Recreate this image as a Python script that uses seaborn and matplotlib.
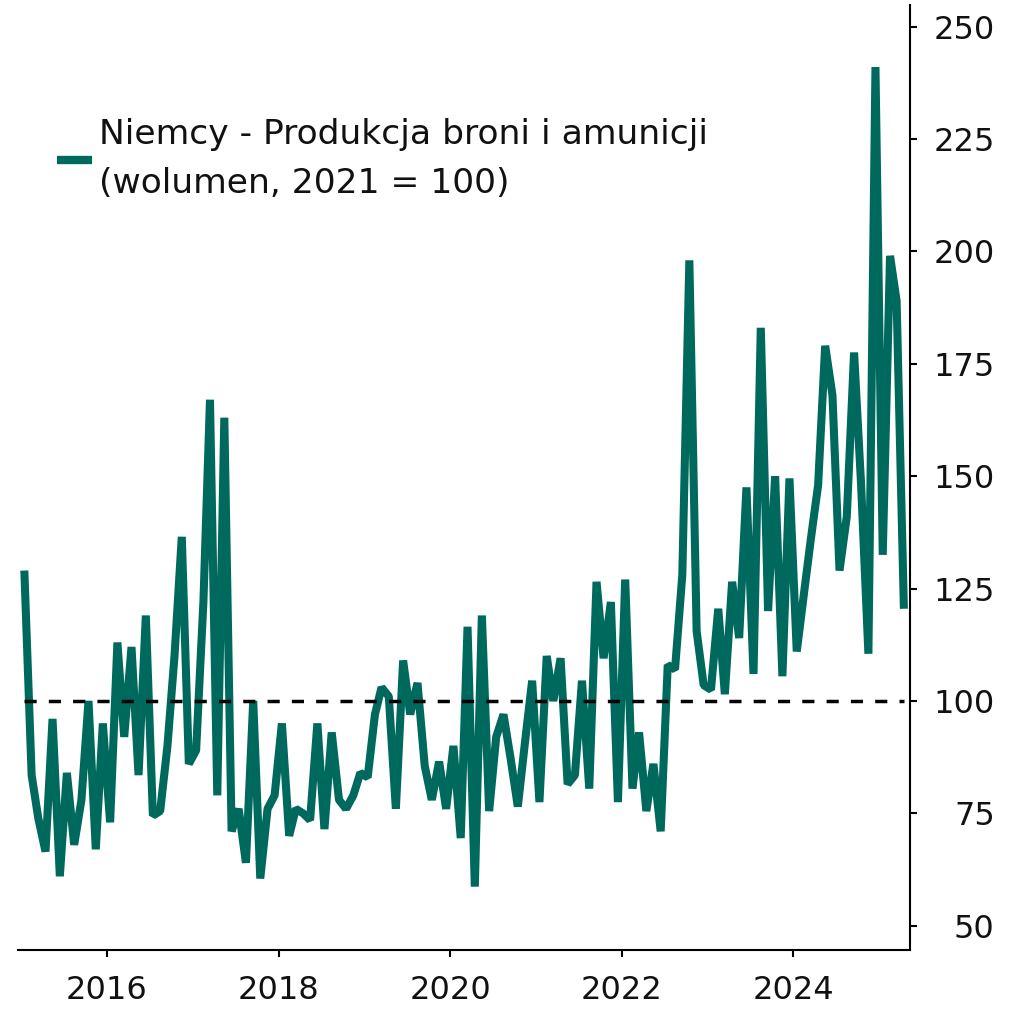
import matplotlib
matplotlib.use("Agg")
import matplotlib.pyplot as plt
import matplotlib.dates as mdates
import seaborn as sns
import pandas as pd

# Niemcy: produkcja broni i amunicji, indeks wolumenu (2021 = 100), dane miesieczne od 01.2015
values = [
    129, 83.5, 74, 66.5, 96, 61, 84, 68, 78, 100, 67, 95,
    73, 113, 92, 112, 83.5, 119, 74.5, 75.5, 90, 110, 136.5, 86,
    89, 122, 167, 79, 163, 71, 76, 64, 100, 60.5, 76, 79,
    95, 70, 76, 75, 73.5, 95, 71.5, 93, 78, 76, 79, 84,
    83, 97, 103, 101, 76, 109, 97, 104, 85.5, 78, 86.5, 76,
    90, 69.5, 116.5, 58.7, 119, 75.5, 92, 97, 87, 76.5, 91, 104.5,
    77.5, 110, 100, 109.5, 81.5, 83.5, 104.5, 80.5, 126.5, 109.5, 122, 77.5,
    127, 80.5, 93, 75.5, 86, 71, 108, 107, 128, 198, 115.5, 103.5,
    102.5, 120.5, 101.5, 126.5, 114, 147.5, 106, 183, 120, 150, 105.5, 149.5,
    111, 124, 136, 148, 179, 168, 129, 141, 177.5, 148, 110.5, 241,
    132.5, 199, 189, 120.5,
]
dates = pd.date_range("2015-01-01", periods=len(values), freq="MS") + pd.Timedelta(days=14)

label = "Niemcy - Produkcja broni i amunicji\n(wolumen, 2021 = 100)"
base_level = 100
y_ticks = [50, 75, 100, 125, 150, 175, 200, 225, 250]
green = "#00695e"

sns.set_theme(style="white")
plt.rcParams["font.family"] = ["DejaVu Sans"]

fig = plt.figure(figsize=(10.2, 10.1), dpi=100)
ax = fig.add_axes([18 / 1020, 60 / 1010, 892 / 1020, 945 / 1010])

df = pd.DataFrame({"data": dates, "indeks": values})
sns.lineplot(data=df, x="data", y="indeks", color=green, linewidth=5.8,
             ax=ax, label=label, solid_joinstyle="bevel", solid_capstyle="butt")
ax.hlines(base_level, dates[0], dates[-1], colors="black", linewidth=2.5,
          linestyles=(0, (3.5, 3.5)), zorder=3)

ax.set_xlim(pd.Timestamp("2014-12-19"), pd.Timestamp("2025-05-11"))
ax.set_ylim(44.6, 254.8)
ax.set_yticks(y_ticks)
ax.xaxis.set_major_locator(mdates.YearLocator(2))
ax.xaxis.set_major_formatter(mdates.DateFormatter("%Y"))
ax.set_xlabel("")
ax.set_ylabel("")

for side in ["left", "top"]:
    ax.spines[side].set_visible(False)
for side in ["right", "bottom"]:
    ax.spines[side].set_color("black")
    ax.spines[side].set_linewidth(1.5)

ax.yaxis.tick_right()
ax.tick_params(axis="y", right=True, direction="out", length=5, width=1.5,
               color="black", labelcolor="#111111", labelsize=23, pad=56)
for lbl in ax.get_yticklabels():
    lbl.set_horizontalalignment("right")
ax.tick_params(axis="x", bottom=True, direction="out", length=5, width=1.5,
               color="black", labelcolor="#111111", labelsize=23, pad=13)

leg = ax.legend(loc="upper left", bbox_to_anchor=(0.044, 0.880), frameon=False,
                fontsize=24.8, handlelength=1.0, handletextpad=0.2, borderpad=0,
                borderaxespad=0, labelcolor="#111111")
for txt in leg.get_texts():
    txt.set_linespacing(1.6)
for h in leg.get_lines():
    h.set_linewidth(6)
    h.set_solid_capstyle("butt")

fig.savefig("out.png", dpi=100)
